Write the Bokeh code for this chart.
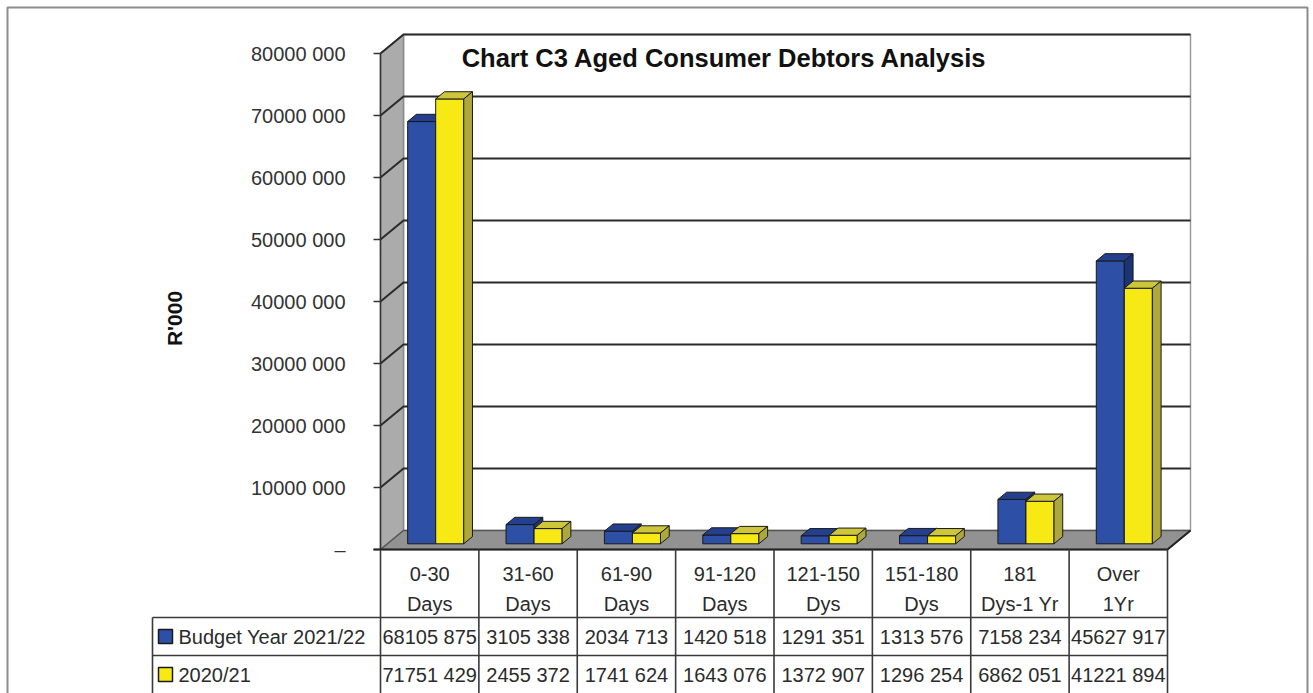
from bokeh.plotting import figure
from bokeh.models import Range1d
from bokeh.embed import file_html
from bokeh.resources import INLINE
from bokeh.core.properties import value

# ---------------- data ----------------
cat_line1 = ["0-30", "31-60", "61-90", "91-120", "121-150", "151-180", "181", "Over"]
cat_line2 = ["Days", "Days", "Days", "Days", "Dys", "Dys", "Dys-1 Yr", "1Yr"]
budget_2021_22 = [68105875, 3105338, 2034713, 1420518, 1291351, 1313576, 7158234, 45627917]
year_2020_21 = [71751429, 2455372, 1741624, 1643076, 1372907, 1296254, 6862051, 41221894]
series_names = ["Budget Year 2021/22", "2020/21"]
y_ticks = [0, 10000000, 20000000, 30000000, 40000000, 50000000, 60000000, 70000000, 80000000]
title_text = "Chart C3 Aged Consumer Debtors Analysis"
y_title = "R'000"

# ---------------- styling / layout ----------------
FONT = "Liberation Sans"
W, H = 1313, 693
FX0, FX1 = 380, 1167      # front plane: left/right of category axis (px)
FY0, FY1 = 549, 53        # front plane: y of 0 and of top value (px)
DEPTH = (23, 19)          # depth vector in px (right, up)
NCAT = len(cat_line1)
YMAX = y_ticks[-1]

ux = NCAT / (FX1 - FX0)
uy = YMAX / (FY0 - FY1)
DX, DY = DEPTH[0] * ux, DEPTH[1] * uy

def cx(px):
    return (px - FX0) * ux

def cy(py):
    return (FY0 - py) * uy

def proj(c, v, z):
    return c + z * DX, v + z * DY

def poly(pts):
    xs, ys = [], []
    for c, v, z in pts:
        x, y = proj(c, v, z)
        xs.append(x)
        ys.append(y)
    return xs, ys

def fmt(v):
    v = int(round(v))
    if v == 0:
        return "\u2013"
    if v >= 1000:
        return f"{v // 1000} {v % 1000:03d}"
    return str(v)

p = figure(width=W, height=H, x_range=Range1d(-FX0 * ux, (W - FX0) * ux),
           y_range=Range1d(-(H - FY0) * uy, FY0 * uy),
           toolbar_location=None, output_backend="svg", min_border=0,
           x_axis_location=None, y_axis_location=None)
p.grid.visible = False
p.outline_line_color = None
p.background_fill_color = "white"
p.border_fill_color = "white"

# ---------------- walls & floor ----------------
bx, by = poly([(0, 0, 1), (NCAT, 0, 1), (NCAT, YMAX, 1), (0, YMAX, 1)])
p.patch(bx, by, fill_color="white", line_color="#9a9a9a", line_width=1.5)
lx, ly = poly([(0, 0, 0), (0, YMAX, 0), (0, YMAX, 1), (0, 0, 1)])
p.patch(lx, ly, fill_color="#ababab", line_color="#8a8a8a", line_width=1.5)
fx, fy = poly([(0, 0, 0), (NCAT, 0, 0), (NCAT, 0, 1), (0, 0, 1)])
p.patch(fx, fy, fill_color="#929292", line_color="#555555", line_width=1.5)

# gridlines on left wall and back wall
gxs, gys = [], []
for t in y_ticks[1:]:
    xs, ys = poly([(0, t, 0), (0, t, 1), (NCAT, t, 1)])
    gxs.append(xs)
    gys.append(ys)
p.multi_line(gxs, gys, line_color="#2a2a2a", line_width=2)

# front axis line and tick marks
tick_len = 7 * ux
p.multi_line([[0, 0]] + [[-tick_len, 0] for t in y_ticks],
             [[0, YMAX]] + [[t, t] for t in y_ticks],
             line_color="#333333", line_width=1.5)

# floor front edge & right edge
ex, ey = poly([(0, 0, 0), (NCAT, 0, 0), (NCAT, 0, 1)])
p.line([-tick_len] + ex, [0] + ey, line_color="#222222", line_width=2)

# ---------------- 3D bars ----------------
series = [budget_2021_22, year_2020_21]
front_cols = ["#2d4fa6", "#f7ea14"]
top_cols = ["#233f8e", "#cdc63b"]
side_cols = ["#1b3377", "#aca83b"]
BW = 0.285
OFF = 0.206
Z0, Z1 = 0.30, 0.68
pxs, pys, pcs = [], [], []
for i in range(NCAT):
    for s, vals in enumerate(series):
        v = vals[i]
        xl = i + OFF + s * BW
        xr = xl + BW
        for pts, col in (
            ([(xl, 0, Z0), (xr, 0, Z0), (xr, v, Z0), (xl, v, Z0)], front_cols[s]),
            ([(xl, v, Z0), (xr, v, Z0), (xr, v, Z1), (xl, v, Z1)], top_cols[s]),
            ([(xr, 0, Z0), (xr, 0, Z1), (xr, v, Z1), (xr, v, Z0)], side_cols[s]),
        ):
            xs, ys = poly(pts)
            pxs.append(xs)
            pys.append(ys)
            pcs.append(col)
p.patches(pxs, pys, fill_color=pcs, line_color="#1a1a1a", line_width=1)

# ---------------- data table ----------------
ROW1_TOP, ROW2_TOP, LEG_LEFT = 617, 655, 152
tl_x, tl_y = [], []
for i in range(NCAT + 1):
    tl_x.append([i, i])
    tl_y.append([0, cy(H)])
for ry in (ROW1_TOP, ROW2_TOP):
    tl_x.append([cx(LEG_LEFT), NCAT])
    tl_y.append([cy(ry), cy(ry)])
tl_x.append([cx(LEG_LEFT), cx(LEG_LEFT)])
tl_y.append([cy(ROW1_TOP), cy(H)])
p.multi_line(tl_x, tl_y, line_color="#3a3a3a", line_width=1.6)

TS = "20px"
centers = [i + 0.5 for i in range(NCAT)]
p.text(x=centers, y=[cy(573)] * NCAT, text=cat_line1, text_font=value(FONT),
       text_font_size=TS, text_align="center", text_baseline="middle", text_color="#2b2b2b")
p.text(x=centers, y=[cy(603)] * NCAT, text=cat_line2, text_font=value(FONT),
       text_font_size=TS, text_align="center", text_baseline="middle", text_color="#2b2b2b")
row_y = [cy(636), cy(674)]
for s, vals in enumerate(series):
    p.text(x=centers, y=[row_y[s]] * NCAT, text=[fmt(v) for v in vals], text_font=value(FONT),
           text_font_size=TS, text_align="center", text_baseline="middle", text_color="#2b2b2b")

# legend keys & names
key = 7
p.quad(left=[cx(165 - key)] * 2, right=[cx(165 + key)] * 2,
       bottom=[y - key * uy for y in row_y], top=[y + key * uy for y in row_y],
       fill_color=front_cols, line_color="#1a1a1a", line_width=1.5)
p.text(x=[cx(178)] * 2, y=row_y, text=series_names, text_font=value(FONT),
       text_font_size=TS, text_align="left", text_baseline="middle", text_color="#2b2b2b")

# ---------------- axis labels & title ----------------
p.text(x=[cx(345)] * len(y_ticks), y=y_ticks, text=[fmt(t) for t in y_ticks],
       text_font=value(FONT), text_font_size=TS, text_align="right",
       text_baseline="middle", text_color="#333333")
p.text(x=[cx(174)], y=[cy(318)], text=[y_title], angle=1.5708, text_font=value(FONT),
       text_font_size="21px", text_font_style="bold", text_align="center",
       text_baseline="middle", text_color="#111111")
p.text(x=[cx(724)], y=[cy(57)], text=[title_text], text_font=value(FONT),
       text_font_size="25.5px", text_font_style="bold", text_align="center",
       text_baseline="middle", text_color="#111111")

# outer frame (top, left, right)
p.multi_line([[cx(7), cx(7), cx(1307), cx(1307)]],
             [[cy(H), cy(7), cy(7), cy(H)]],
             line_color="#8c8c8c", line_width=2)

open("out.html", "w").write(file_html(p, INLINE))
